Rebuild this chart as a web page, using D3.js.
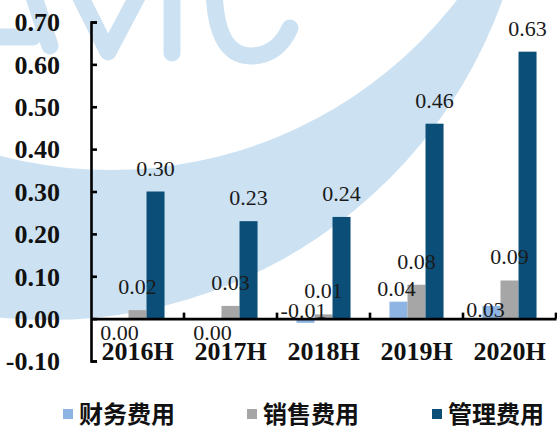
<!DOCTYPE html>
<html>
<head>
<meta charset="utf-8">
<script src="https://cdn.jsdelivr.net/npm/d3@7/dist/d3.min.js"></script>
<style>
  html, body { margin: 0; padding: 0; background: #fff; }
  svg { display: block; }
</style>
</head>
<body>
<script>
// ---- data ----
const categories = ["2016H", "2017H", "2018H", "2019H", "2020H"];
const seriesNames = ["财务费用", "销售费用", "管理费用"];
const financeCost = [0.00, 0.00, -0.01, 0.04, 0.03];
const sellingCost = [0.02, 0.03, 0.01, 0.08, 0.09];
const adminCost   = [0.30, 0.23, 0.24, 0.46, 0.63];
const yTickValues = [-0.1, 0, 0.1, 0.2, 0.3, 0.4, 0.5, 0.6, 0.7];

// ---- styling ----
const seriesColors = ["#8db4e2", "#a6a6a6", "#0b4f79"];
const washColor = "#cce2f2";
// hand-placed offsets [dx, dy] for the 财务费用 value labels
const financeLabelNudge = [[0, 21], [0, 21], [-2, -1], [-2, -6], [-6, 11]];

const W = 557, H = 429;
const serif = "'Liberation Serif', 'Times New Roman', serif";
const cjk = "'Noto Sans CJK SC', sans-serif";

// two-decimal numbers with a plain hyphen for negatives
const fmt = d3.formatLocale({
  decimal: ".", thousands: ",", grouping: [3], currency: ["", ""], minus: "-"
}).format(".2f");

const svg = d3.select("body").append("svg")
  .attr("width", W).attr("height", H);

// ---- background wash: crescent band and lettering ----
const defs = svg.append("defs");
const mask = defs.append("mask").attr("id", "crescent");
mask.append("rect").attr("x", 0).attr("y", 0).attr("width", W).attr("height", H).attr("fill", "#fff");
mask.append("circle").attr("cx", 110.5).attr("cy", -268).attr("r", 438).attr("fill", "#000");

const wash = svg.append("g");
wash.append("circle")
  .attr("cx", 48.5).attr("cy", -162).attr("r", 482)
  .attr("fill", washColor)
  .attr("mask", "url(#crescent)");

const letters = wash.append("g")
  .attr("fill", "none")
  .attr("stroke", washColor)
  .attr("stroke-width", 17)
  .attr("stroke-linecap", "round")
  .attr("stroke-linejoin", "round");
letters.append("path").attr("d", "M22,-40 L50,46");              // A, right leg
letters.append("path").attr("d", "M-20,-40 L-40,46");            // A, left leg
letters.append("path").attr("d", "M-12,37 L33,37");              // A, bar
letters.append("path").attr("d", "M72,-20 L108,52 L146,-20");    // V
letters.append("path").attr("d", "M172,-20 L172,53");            // I
letters.append("path").attr("d", "M214,-20 Q213,57 252,56 Q278,55 290,28"); // C

// ---- scales ----
const y = d3.scaleLinear().domain([-0.1, 0.7]).range([361, 22]);
const x = d3.scaleBand().domain(categories).range([91, 556]).paddingInner(0).paddingOuter(0);
const xs = d3.scaleBand().domain(seriesNames).range([0, x.bandwidth()])
  .paddingInner(0).paddingOuter(1.08);

const series = [financeCost, sellingCost, adminCost];

// ---- bars ----
const barLayer = svg.append("g");
series.forEach((vals, si) => {
  barLayer.selectAll(null)
    .data(vals.map((v, i) => ({ v, cat: categories[i] })))
    .join("rect")
    .attr("x", d => x(d.cat) + xs(seriesNames[si]))
    .attr("width", xs.bandwidth())
    .attr("y", d => y(Math.max(d.v, 0)))
    .attr("height", d => Math.abs(y(d.v) - y(0)))
    .attr("fill", seriesColors[si]);
});

// ---- axes ----
const yAxis = d3.axisLeft(y)
  .tickValues(yTickValues)
  .tickFormat(fmt)
  .tickSizeInner(-6)
  .tickSizeOuter(-6)
  .tickPadding(31);

const gy = svg.append("g").attr("transform", "translate(91,0)").call(yAxis);
gy.select(".domain").attr("stroke", "#000").attr("stroke-width", 2.6);
gy.selectAll(".tick line").attr("stroke", "#000").attr("stroke-width", 2.6);
gy.selectAll(".tick text")
  .attr("font-family", serif)
  .attr("font-size", 26)
  .attr("font-weight", "bold")
  .attr("fill", "#111")
  .attr("dy", "0.34em");

const xAxis = d3.axisBottom(x).tickSize(0).tickFormat("");
const gx = svg.append("g").attr("transform", `translate(0,${y(0)})`).call(xAxis);
gx.select(".domain").attr("stroke", "#000").attr("stroke-width", 2.6);

// category boundary ticks, pointing up into the plot
svg.append("g").selectAll("line")
  .data(categories)
  .join("line")
  .attr("x1", d => x(d) + x.bandwidth())
  .attr("x2", d => x(d) + x.bandwidth())
  .attr("y1", y(0))
  .attr("y2", y(0) - 6)
  .attr("stroke", "#000")
  .attr("stroke-width", 2.6);

// ---- value labels ----
const labelLayer = svg.append("g")
  .attr("font-family", serif)
  .attr("font-size", 22)
  .attr("fill", "#1a1a1a")
  .attr("text-anchor", "middle");

series.forEach((vals, si) => {
  labelLayer.selectAll(null)
    .data(vals.map((v, i) => ({ v, i, cat: categories[i] })))
    .join("text")
    .attr("x", d => {
      const cx = x(d.cat) + xs(seriesNames[si]) + xs.bandwidth() / 2;
      return si === 0 ? cx + financeLabelNudge[d.i][0] : cx;
    })
    .attr("y", d => {
      const top = y(Math.max(d.v, 0));
      return si === 0 ? top + financeLabelNudge[d.i][1] : top - 16;
    })
    .text(d => fmt(d.v));
});

// ---- category labels ----
svg.append("g").selectAll("text")
  .data(categories)
  .join("text")
  .attr("x", d => x(d) + x.bandwidth() / 2)
  .attr("y", 360)
  .attr("text-anchor", "middle")
  .attr("font-family", serif)
  .attr("font-size", 26)
  .attr("font-weight", "bold")
  .attr("fill", "#111")
  .text(d => d);

// ---- legend ----
const legendX = [63, 247, 432];
const legend = svg.append("g");
seriesNames.forEach((name, i) => {
  const g = legend.append("g").attr("transform", `translate(${legendX[i]},414)`);
  g.append("rect").attr("x", 0).attr("y", -5).attr("width", 10).attr("height", 10)
    .attr("fill", seriesColors[i]);
  g.append("text").attr("x", 16).attr("y", 0).attr("dy", "0.36em")
    .attr("font-family", cjk)
    .attr("font-size", 24)
    .attr("font-weight", "bold")
    .attr("fill", "#111")
    .text(name);
});
</script>
</body>
</html>
